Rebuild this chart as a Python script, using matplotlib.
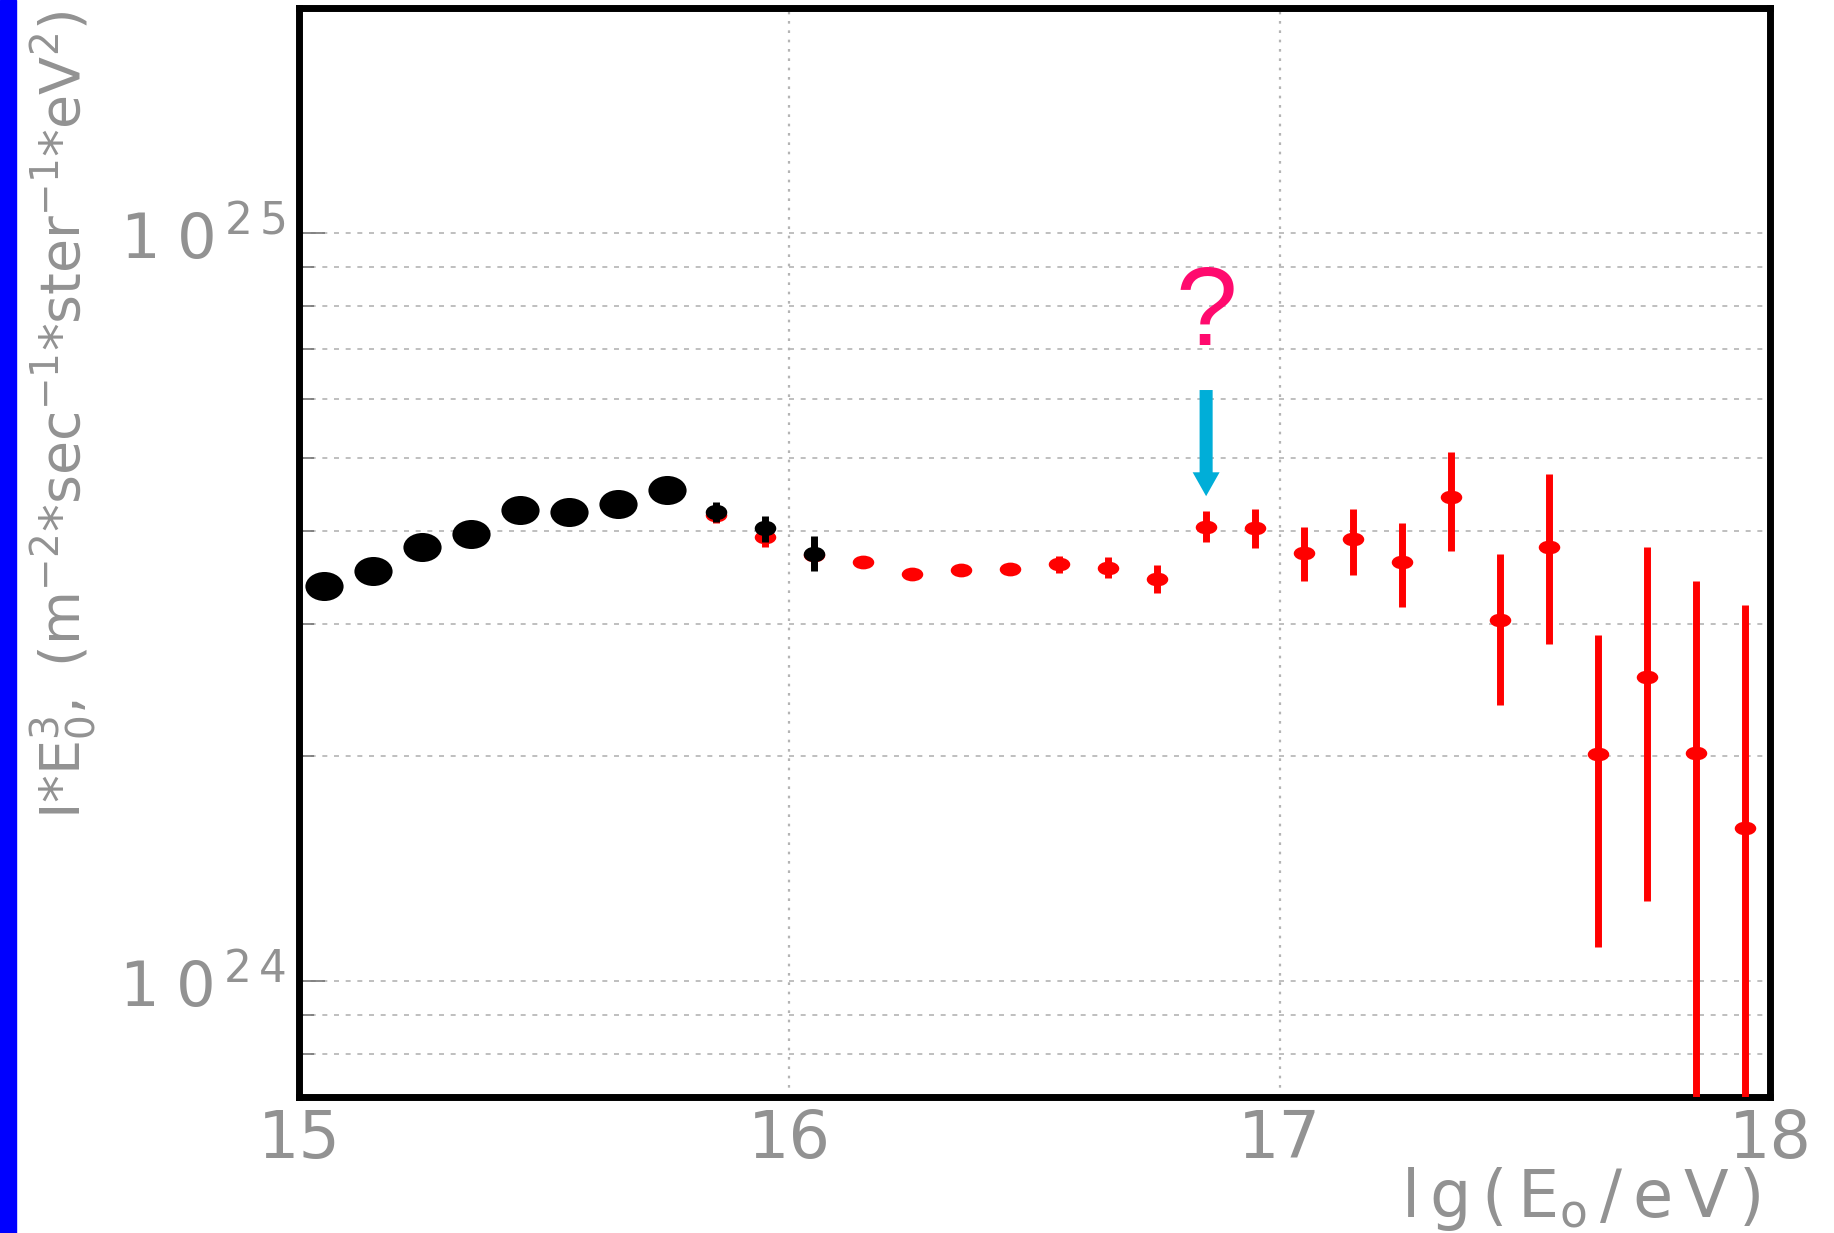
import numpy as np
import matplotlib
matplotlib.use("Agg")
import matplotlib.pyplot as plt
from matplotlib.path import Path
from matplotlib.transforms import Affine2D
from matplotlib.patches import Rectangle
from matplotlib.ticker import FixedLocator, FixedFormatter, LogLocator, NullFormatter

# ---- data: lg(E0/eV) bin centres and I*E0^3 values ----
x_black = [15.05, 15.15, 15.25, 15.35, 15.45, 15.55, 15.65, 15.75, 15.85, 15.95, 16.05]
y_black = [3.37e24, 3.53e24, 3.80e24, 3.96e24, 4.27e24, 4.24e24, 4.34e24, 4.53e24,
           4.24e24, 4.04e24, 3.73e24]
y_black_hi = [3.37e24, 3.53e24, 3.80e24, 3.96e24, 4.27e24, 4.24e24, 4.34e24, 4.53e24,
              4.37e24, 4.19e24, 3.94e24]
y_black_lo = [3.37e24, 3.53e24, 3.80e24, 3.96e24, 4.27e24, 4.24e24, 4.34e24, 4.53e24,
              4.11e24, 3.87e24, 3.53e24]

x_red = [15.85, 15.95, 16.05, 16.15, 16.25, 16.35, 16.45, 16.55, 16.65, 16.75,
         16.85, 16.95, 17.05, 17.15, 17.25, 17.35, 17.45, 17.55, 17.65, 17.75,
         17.85, 17.95]
y_red = [4.20e24, 3.93e24, 3.71e24, 3.63e24, 3.50e24, 3.55e24, 3.56e24, 3.61e24,
         3.57e24, 3.45e24, 4.05e24, 4.03e24, 3.74e24, 3.90e24, 3.63e24, 4.44e24,
         3.04e24, 3.81e24, 2.01e24, 2.55e24, 2.02e24, 1.60e24]
y_red_hi = [4.30e24, 4.05e24, 3.85e24, 3.63e24, 3.50e24, 3.55e24, 3.56e24, 3.70e24,
            3.69e24, 3.60e24, 4.25e24, 4.28e24, 4.05e24, 4.28e24, 4.10e24, 5.10e24,
            3.72e24, 4.77e24, 2.90e24, 3.81e24, 3.43e24, 3.18e24]
y_red_lo = [4.10e24, 3.81e24, 3.57e24, 3.63e24, 3.50e24, 3.55e24, 3.56e24, 3.51e24,
            3.46e24, 3.30e24, 3.87e24, 3.79e24, 3.43e24, 3.49e24, 3.16e24, 3.76e24,
            2.34e24, 2.82e24, 1.11e24, 1.28e24, 0.50e24, 0.50e24]

x_ticks = [15, 16, 17, 18]
x_ticklabels = ["15", "16", "17", "18"]
y_ticks = [1e24, 1e25]
y_ticklabels = [r"$\mathregular{1\;0^{\,2\,4}}$", r"$\mathregular{1\;0^{\,2\,5}}$"]

x_mark, y_mark_top, y_mark_tip, y_question = 16.85, 6.17e24, 4.45e24, 7.08e24

GRAY = "#929292"

plt.rcParams["font.family"] = ["DejaVu Sans"]

fig = plt.figure(figsize=(18.34, 12.33), dpi=100)
fig.patch.set_facecolor("white")
W, H = 1834, 1233
ax = fig.add_axes([299 / W, 1 - 1097 / H, (1770 - 299) / W, (1097 - 8) / H])

# blue stripe on the left edge
fig.add_artist(Rectangle((0, 0), 16 / W, 1, transform=fig.transFigure,
                         color="#0000FF", zorder=10))


def ellipse(ratio):
    return Path.unit_circle().transformed(Affine2D().scale(1.0, ratio))


def yerr(y, lo, hi):
    y, lo, hi = map(np.asarray, (y, lo, hi))
    return np.vstack([y - lo, hi - y])


# red series (drawn first, partly hidden under black)
ax.errorbar(x_red, y_red, yerr=yerr(y_red, y_red_lo, y_red_hi), fmt="none",
            ecolor="#FF0000", elinewidth=5, capsize=0, zorder=3)
ax.plot(x_red, y_red, linestyle="none", marker=ellipse(0.64), ms=15.5,
        color="#FF0000", mew=0, zorder=4)

# black series: large points, then small ones with error bars
ax.errorbar(x_black, y_black, yerr=yerr(y_black, y_black_lo, y_black_hi), fmt="none",
            ecolor="black", elinewidth=5, capsize=0, zorder=5)
ax.plot(x_black[:8], y_black[:8], linestyle="none", marker=ellipse(0.76), ms=27.5,
        color="black", mew=0, zorder=6)
ax.plot(x_black[8:], y_black[8:], linestyle="none", marker=ellipse(0.72), ms=15.5,
        color="black", mew=0, zorder=6)

# scales
ax.set_yscale("log")
ax.set_xlim(15, 18)
ax.set_ylim(7e23, 2e25)

ax.xaxis.set_major_locator(FixedLocator(x_ticks))
ax.xaxis.set_major_formatter(FixedFormatter(x_ticklabels))
ax.yaxis.set_major_locator(FixedLocator(y_ticks))
ax.yaxis.set_major_formatter(FixedFormatter(y_ticklabels))
ax.yaxis.set_minor_locator(LogLocator(base=10, subs=np.arange(2, 10)))
ax.yaxis.set_minor_formatter(NullFormatter())

ax.tick_params(axis="x", which="both", length=0, pad=8, labelsize=47, labelcolor=GRAY)
ax.tick_params(axis="y", which="major", direction="in", length=19, width=1.2,
               color="#777777", pad=10, labelsize=45, labelcolor=GRAY)
ax.tick_params(axis="y", which="minor", direction="in", length=11, width=1.2,
               color="#777777")

# grid
ax.set_axisbelow(True)
ax.yaxis.grid(True, which="both", color="#b4b4b4", linestyle=(0, (3, 4)), linewidth=1.2)
ax.xaxis.grid(True, which="major", color="#b4b4b4", linestyle=(0, (1.2, 3)), linewidth=1.6)

for s in ax.spines.values():
    s.set_linewidth(5)
    s.set_color("black")

# axis titles
ax.set_ylabel(r"$\mathregular{I{*}E_{0}^{3},\ (m^{-2}{*}sec^{-1}{*}ster^{-1}{*}eV^{2})}$",
              fontsize=40, color=GRAY, rotation=90, va="center", ha="center")
ax.yaxis.set_label_coords((64 - 299) / 1471, (1097 - 415) / 1089)

ax.set_xlabel(r"$\mathregular{l\,g\,(\,E_{o}\,/\,e\,V\,)}$", fontsize=47, color=GRAY,
              ha="right", va="baseline")
ax.xaxis.set_label_coords((1760 - 299) / 1471, (1097 - 1217) / 1089)

# annotation: question mark and arrow at lg(E0)=16.85
ax.text(x_mark, y_question, "?", color="#FF0A6E", fontsize=80, ha="center",
        va="baseline", family=["Liberation Sans", "DejaVu Sans"], zorder=7)
ax.annotate("", xy=(x_mark, y_mark_tip), xytext=(x_mark, y_mark_top),
            arrowprops=dict(arrowstyle="simple,head_width=0.97,head_length=0.86,tail_width=0.47",
                            mutation_scale=20, color="#00AED8", shrinkA=0, shrinkB=0,
                            lw=0),
            zorder=7)

fig.savefig("out.png", dpi=100, facecolor="white")
